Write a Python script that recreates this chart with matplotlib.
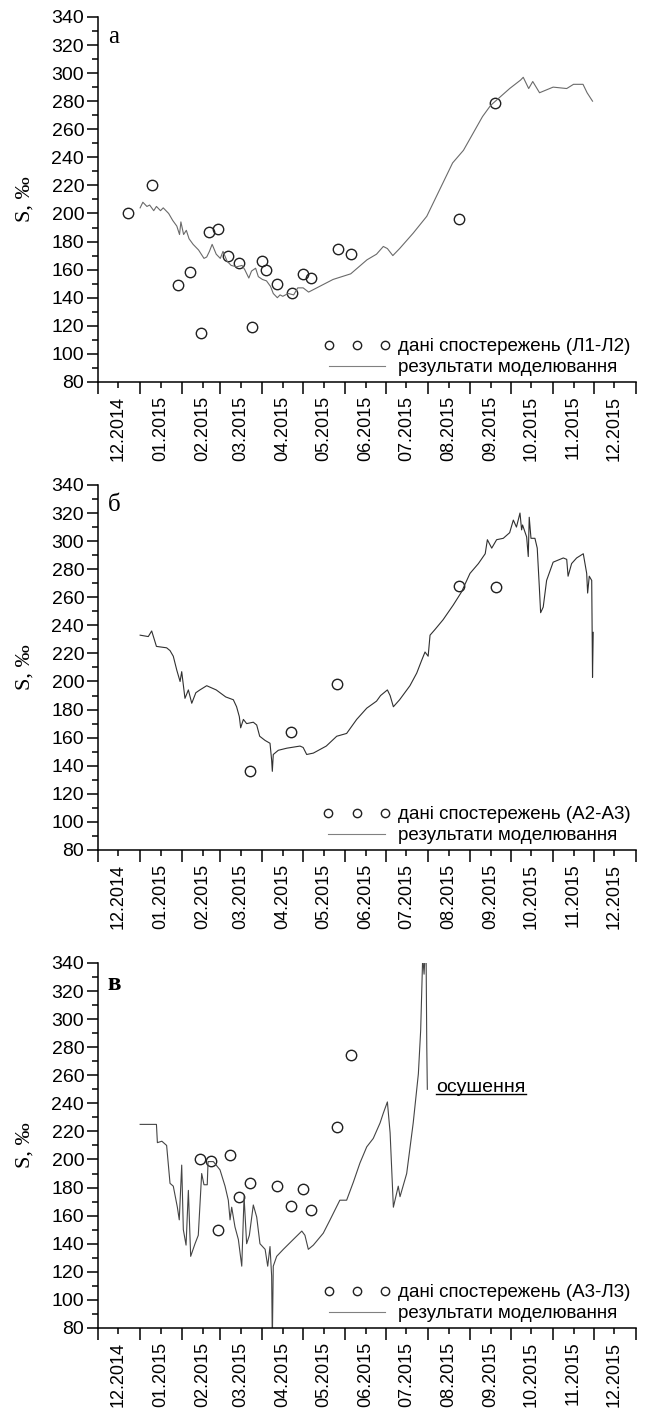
import numpy as np
import pandas as pd
import matplotlib
matplotlib.use('Agg')
import matplotlib.pyplot as plt
import matplotlib.dates as mdates
from matplotlib.lines import Line2D

plt.rcParams['font.family'] = ['Liberation Sans', 'DejaVu Sans']

START = '2014-12-01'
END = '2016-01-01'

# ---- panel a: Л1-Л2 ----
# model curve, days since 01.12.2014
model_a_days = [31, 33, 36, 38, 41, 43, 46, 48, 52, 55, 58, 60, 61, 63, 65, 67, 70, 74,
                78, 80, 82, 84, 87, 90, 92, 95, 98, 102, 106, 108, 111, 113, 116, 118,
                121, 124, 127, 129, 132, 134, 136, 140, 144, 147, 151, 155, 163, 173,
                186, 198, 205, 210, 213, 217, 222, 232, 242, 254, 261, 269, 276, 283,
                289, 296, 303, 311, 313, 317, 320, 325, 335, 345, 350, 357, 360, 364]
model_a_vals = [204, 208, 205, 206, 202, 205, 202, 204, 200, 195, 191, 185, 194, 185, 188,
                182, 178, 174, 168, 169, 173, 178, 171, 168, 173, 166, 163, 162, 163, 160,
                154, 159, 161, 155, 153, 152, 148, 143, 140, 142, 141, 143, 142, 147, 147,
                144, 148, 153, 157, 167, 171, 176.5, 175, 170, 175, 186, 198, 222, 236,
                245, 257, 269, 277, 283, 289, 295, 297, 289, 294, 286, 290, 289, 292, 292,
                286, 280]
obs_a_dates = ['2014-12-23', '2015-01-10', '2015-01-29', '2015-02-07', '2015-02-15',
               '2015-02-21', '2015-02-27', '2015-03-07', '2015-03-15', '2015-03-24',
               '2015-04-01', '2015-04-04', '2015-04-12', '2015-04-23', '2015-05-01',
               '2015-05-07', '2015-05-27', '2015-06-05', '2015-08-24', '2015-09-19']
obs_a_vals = [200, 220, 149, 158, 115, 187, 189, 170, 165, 119, 166, 160, 150, 143,
              157, 154, 175, 171, 196, 279]

# ---- panel б: А2-А3 ----
model_b_days = [31, 37, 39.5, 43, 50.5, 53, 55.4, 58, 60.4, 61.6, 64, 66.5, 69, 72, 75,
                80, 87, 94, 99.6, 102, 104, 105, 107, 109.4, 114.3, 116.8, 119, 123,
                126.6, 127.8, 128.3, 129, 132.7, 139, 148.7, 151, 153.6, 158.5, 168,
                175.7, 183, 190.4, 197.8, 205, 208, 213, 215, 217.4, 222, 229.6, 234.6,
                238.2, 240.7, 243, 244.4, 248, 254, 261.5, 267.7, 270, 273.8, 280, 285,
                286.6, 289.8, 293.4, 298.3, 303, 305.7, 308, 310.6, 311.8, 312.5, 315.5,
                316.7, 317.4, 318.7, 321.6, 323.3, 324.8, 325.8, 327.7, 330.2, 335,
                342.5, 345, 346, 348.6, 352.3, 357.2, 359.7, 360.4, 361.6, 363.4, 364,
                364.5]
model_b_vals = [233, 232, 236, 225, 224, 222, 218, 208, 200, 207, 188, 194, 184.5, 192,
                194, 197, 194, 189, 187, 182, 175, 167, 173, 170, 171, 169, 161, 158,
                156, 144, 136, 148, 151, 152.5, 154, 153, 148, 149, 154, 161, 163, 173,
                181, 186, 190, 194, 190, 182, 187, 197, 206, 215, 221, 218, 233, 237,
                244, 254.5, 264, 269, 277, 284, 291, 301, 295, 301, 302, 306, 315, 310,
                320, 308, 311.5, 303, 289, 317, 302, 302, 295, 268, 249, 253, 272, 285,
                288, 287, 275, 284, 288, 291, 277, 263, 275, 272, 203, 235]
obs_b_dates = ['2015-03-23', '2015-04-22', '2015-05-26', '2015-08-24', '2015-09-20']
obs_b_vals = [136, 164, 198, 268, 267]

# ---- panel в: А3-Л3 ----
model_c_days = [31, 43, 43.7, 47, 50.5, 53, 55.4, 58.4, 59.8, 61.6, 62.8, 64.8, 66.5,
                68.2, 71.4, 73.8, 76.3, 78, 80.4, 81, 84.9, 89.8, 93.5, 95.9, 97.2, 98.4,
                100.8, 103.3, 105.8, 107.5, 109.4, 111.4, 114.3, 116.8, 119.2, 123,
                124.9, 126.6, 127.8, 128.3, 129, 131.5, 136.4, 143.7, 150, 152.3, 154.8,
                158.5, 165.8, 170.8, 178, 183, 188, 192.8, 197.8, 202.6, 207.6, 210, 213,
                215, 217.4, 221, 222.3, 227.2, 232, 235.8, 237.5, 239, 240, 240.7, 241.5,
                242, 242.4]
model_c_vals = [225, 225, 212, 213, 210, 183, 181, 166, 157, 196, 150, 139, 178, 131, 140,
                146, 190, 182, 182, 198.5, 198.5, 192.6, 181, 171, 157, 166, 152, 143, 124,
                173.5, 140, 146, 167.6, 159, 140, 136, 124, 138, 117, 70, 124, 131, 136,
                143, 149, 146, 136, 139, 147.5, 157, 171, 171, 184, 197.5, 209, 215, 226,
                233, 241, 219, 166, 181, 173.5, 190, 226, 261, 292, 345, 332, 345, 345,
                280, 250]
obs_c_dates = ['2015-02-14', '2015-02-22', '2015-02-27', '2015-03-08', '2015-03-15',
               '2015-03-23', '2015-04-12', '2015-04-22', '2015-05-01', '2015-05-07',
               '2015-05-26', '2015-06-05']
obs_c_vals = [200, 199, 150, 203, 173.5, 183.5, 181, 167, 179, 164, 223, 274.5]

panels = [
    ('а', model_a_days, model_a_vals, obs_a_dates, obs_a_vals, '(Л1-Л2)', '#6a6a6a', 0.7316),
    ('б', model_b_days, model_b_vals, obs_b_dates, obs_b_vals, '(А2-А3)', '#303030', 0.4027),
    ('в', model_c_days, model_c_vals, obs_c_dates, obs_c_vals, '(А3-Л3)', '#454545', 0.0668),
]

fig = plt.figure(figsize=(6.47, 14.23), dpi=100)
t0 = mdates.date2num(pd.Timestamp(START))
t1 = mdates.date2num(pd.Timestamp(END))

for letter, mdays, mvals, odates, ovals, tag, lcol, bottom in panels:
    ax = fig.add_axes([0.1515, bottom, 0.8315, 0.2565])
    x_model = t0 + np.array(mdays, dtype=float)
    x_obs = mdates.date2num(pd.to_datetime(odates))
    ax.plot(x_obs, ovals, 'o', ms=7.5, mfc='none', mec='#202020', mew=1.0,
            label='дані спостережень ' + tag)
    ax.plot(x_model, mvals, '-', color=lcol, lw=0.8, label='результати моделювання')

    ax.set_xlim(t0, t1)
    ax.set_ylim(80, 340)
    ax.set_yticks(np.arange(80, 341, 20))
    ax.set_yticks(np.arange(80, 341, 10), minor=True)
    ax.xaxis.set_major_locator(mdates.MonthLocator())
    ax.xaxis.set_major_formatter(plt.NullFormatter())
    ax.xaxis.set_minor_locator(mdates.MonthLocator(bymonthday=16))
    ax.xaxis.set_minor_formatter(mdates.DateFormatter('%m.%Y'))
    for lab in ax.xaxis.get_minorticklabels():
        lab.set_rotation(90)
    ax.tick_params(axis='y', which='major', length=8, width=1.1, labelsize=14, pad=2)
    ax.tick_params(axis='y', which='minor', length=4.5, width=1.1)
    ax.tick_params(axis='x', which='major', length=8.5, width=1.1)
    ax.tick_params(axis='x', which='minor', length=4, width=1.1, labelsize=13, pad=6)
    for s in ['top', 'right']:
        ax.spines[s].set_visible(False)
    for s in ['left', 'bottom']:
        ax.spines[s].set_linewidth(1.1)

    ax.set_ylabel('S, ‰', family='Liberation Serif', fontsize=16)
    ax.yaxis.set_label_coords(-0.118, 0.5)
    ax.text(0.018, 0.975, letter, transform=ax.transAxes, family='Liberation Serif',
            fontsize=18, fontweight='bold' if letter == 'в' else 'normal',
            ha='left', va='top')

    leg = ax.legend(loc='lower right', frameon=False, fontsize=13.5, numpoints=3,
                    markerscale=0.8, handlelength=3.6, handletextpad=0.4,
                    borderaxespad=0.15, borderpad=0.15, labelspacing=0.2)
    leg.get_lines()[1].set_color('#808080')

    if letter == 'в':
        note = ax.text(t0 + 249, 248, 'осушення', fontsize=14, ha='left', va='baseline')
        fig.canvas.draw()
        bb = note.get_window_extent().transformed(fig.transFigure.inverted())
        yline = bb.y0 + 0.0018
        fig.add_artist(Line2D([bb.x0, bb.x1], [yline, yline], color='black', lw=1.0))

fig.savefig('out.png', dpi=100)
